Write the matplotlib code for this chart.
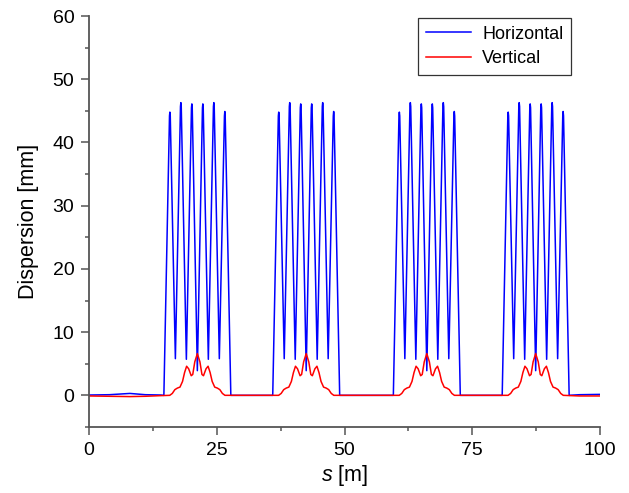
import numpy as np
import matplotlib
matplotlib.use("Agg")
import matplotlib.pyplot as plt
from matplotlib.ticker import MultipleLocator

plt.rcParams["font.family"] = ["Liberation Sans", "DejaVu Sans"]
plt.rcParams["mathtext.fontset"] = "custom"
plt.rcParams["mathtext.it"] = "Liberation Sans:italic"
plt.rcParams["mathtext.rm"] = "Liberation Sans"

# centres of the four arc sections [m]
centers = [21.2, 42.5, 66.1, 87.4]

# horizontal dispersion over one arc, offsets from its centre [m] / values [mm]
h_off = [-6.55, -5.45, -5.375, -5.3, -4.3, -3.3, -3.225, -3.15, -2.15,
         -1.15, -1.075, -1.0, 0.0, 1.0, 1.075, 1.15, 2.15, 3.15, 3.225,
         3.3, 4.3, 5.3, 5.375, 5.45, 6.55]
h_val = [0.0, 44.2, 44.8, 44.2, 5.8, 45.7, 46.3, 45.7, 5.7,
         45.5, 46.1, 45.5, 3.9, 45.5, 46.1, 45.5, 5.7, 45.7, 46.3,
         45.7, 5.8, 44.2, 44.9, 44.2, 0.0]

# vertical dispersion over one arc
v_off = [-5.4, -4.9, -4.4, -3.9, -3.4, -2.9, -2.5, -2.1, -1.7, -1.2, -0.9,
         -0.5, 0.0, 0.5, 0.9, 1.2, 1.7, 2.1, 2.5, 2.9, 3.4, 3.9, 4.4, 4.9, 5.4]
v_val = [0.0, 0.3, 0.9, 1.15, 1.3, 2.2, 3.6, 4.6, 4.2, 3.1, 3.3,
         5.3, 6.6, 5.3, 3.3, 3.1, 4.2, 4.6, 3.6, 2.2, 1.3, 1.15, 0.9, 0.3, 0.0]

# straight sections before first / after last arc
start_s = [0, 4, 8, 11, 14]
start_h = [0.05, 0.1, 0.3, 0.1, 0.05]
start_v = [-0.1, -0.15, -0.2, -0.15, -0.05]
end_s = [96, 100]
end_h = [0.1, 0.15]
end_v = [-0.1, -0.1]


def assemble(off, val, s0, v0, s1, v1):
    s, d = list(s0), list(v0)
    for c in centers:
        s += [c + o for o in off]
        d += val
    return np.array(s + s1), np.array(d + v1)


sh, dh = assemble(h_off, h_val, start_s, start_h, end_s, end_h)
sv, dv = assemble(v_off, v_val, start_s, start_v, end_s, end_v)

fig = plt.figure(figsize=(6.29, 4.93), dpi=100)
ax = fig.add_axes([0.1415, 0.134, 0.8125, 0.8335])
ax.plot(sh, dh, color="#0000ff", lw=1.1, label="Horizontal")
ax.plot(sv, dv, color="#ff0000", lw=1.1, label="Vertical")

ax.set_xlim(0, 100)
ax.set_ylim(-5, 60)
ax.xaxis.set_major_locator(MultipleLocator(25))
ax.xaxis.set_minor_locator(MultipleLocator(12.5))
ax.yaxis.set_major_locator(MultipleLocator(10))
ax.yaxis.set_minor_locator(MultipleLocator(5))
for sp in ("top", "right"):
    ax.spines[sp].set_visible(False)
for sp in ("left", "bottom"):
    ax.spines[sp].set_color("#555555")
    ax.spines[sp].set_linewidth(1.3)
ax.tick_params(which="both", direction="out", color="#555555", width=1.1)
ax.tick_params(which="major", length=5.5, labelsize=14, pad=5)
ax.tick_params(which="minor", length=3)
ax.set_xlabel("$s$ [m]", fontsize=15.5, labelpad=3)
ax.set_ylabel("Dispersion [mm]", fontsize=15.5, labelpad=10)

leg = ax.legend(loc="upper right", bbox_to_anchor=(0.944, 0.996),
                borderaxespad=0, fontsize=13, fancybox=False,
                edgecolor="#333333", framealpha=1, handlelength=2.5,
                handletextpad=0.6, borderpad=0.45, labelspacing=0.4)
leg.get_frame().set_linewidth(0.9)

fig.savefig("out.png", dpi=100)
